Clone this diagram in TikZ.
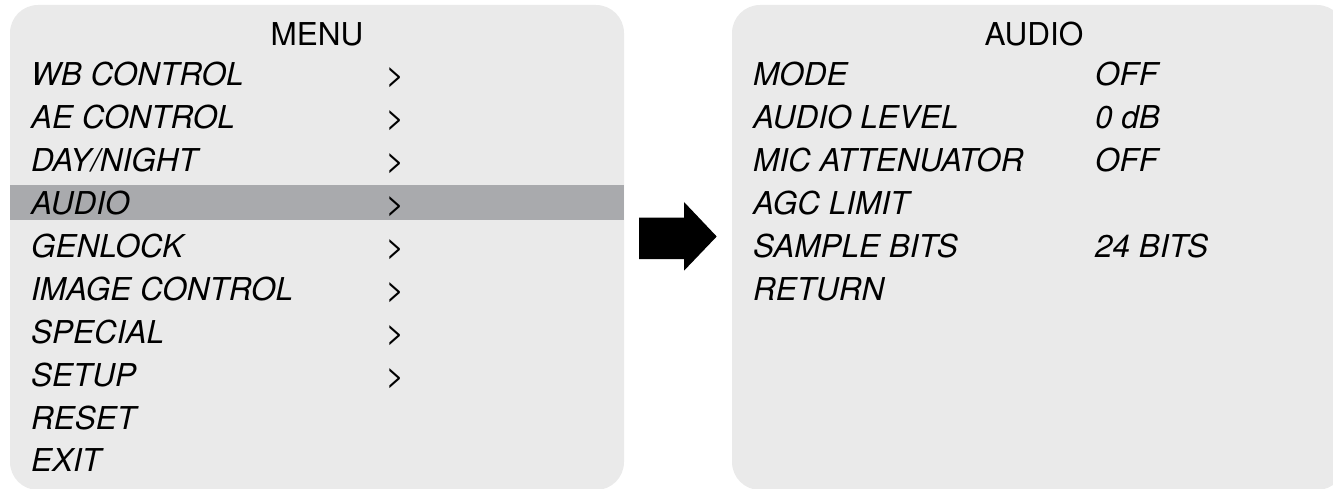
\documentclass[tikz,border=0pt]{standalone}
\usepackage{fontspec}
\setmainfont{TeX Gyre Heros}
\definecolor{panelgray}{HTML}{EAEAEA}
\definecolor{bargray}{HTML}{A9AAAD}
\begin{document}
\begin{tikzpicture}[x=1pt,y=-1pt,
  every node/.style={inner sep=0pt,font=\fontsize{31.5}{36}\selectfont},
  item/.style={anchor=base west,font=\fontsize{31.5}{36}\selectfont\itshape},
  ttl/.style={anchor=base},
  panel/.style={fill=panelgray,rounded corners=28pt}]
\useasboundingbox (0,0) rectangle (1333,489);
\clip (0,0) rectangle (1333,489);
% panels
\fill[panel] (10,5) rectangle (624,490);
\fill[panel] (732,5) rectangle (1345,490);
% highlight bar
\fill[bargray] (10,185) rectangle (624,220);
% left menu
\node[ttl] (menu) at (317,46) {MENU};
\foreach \t [count=\i from 0] in {WB CONTROL,AE CONTROL,DAY/NIGHT,AUDIO,GENLOCK,IMAGE CONTROL,SPECIAL,SETUP,RESET,EXIT}{
  \node[item] (l\i) at (31,85.8+42.9*\i) {\t};
}
\foreach \i in {0,...,7}{
  \node[anchor=base] (g\i) at (395,85.8+42.9*\i) {>};
}
% right menu
\node[ttl] (audio) at (1034,46) {AUDIO};
\foreach \t [count=\i from 0] in {MODE,AUDIO LEVEL,MIC ATTENUATOR,AGC LIMIT,SAMPLE BITS,RETURN}{
  \node[item] (r\i) at (753,85.8+42.9*\i) {\t};
}
\node[item] (v0) at (1095,85.8) {OFF};
\node[item] (v1) at (1095,85.8+42.9) {0 dB};
\node[item] (v2) at (1095,85.8+85.8) {OFF};
\node[item] (v4) at (1095,85.8+171.6) {24 BITS};
% arrow
\fill[black] (639,217.7) -- (684,217.7) -- (684,202) -- (716.7,236.5) -- (684,270.7) -- (684,259) -- (639,259) -- cycle;
\end{tikzpicture}
\end{document}
